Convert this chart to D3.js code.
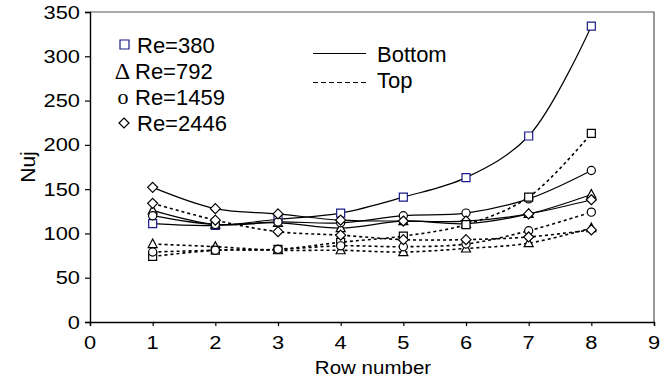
<!DOCTYPE html>
<html>
  <head>
    <meta charset="UTF-8">
    <title>Nuj vs row number</title>
    <script src="https://cdn.jsdelivr.net/npm/d3@7"></script>
    <style>
      body { margin: 0; background: #fff; }
      text { font-family: "Liberation Sans", Arial, sans-serif; fill: #000; }
    </style>
  </head>
  <body>
    <svg id="chart" width="668" height="382"></svg>
    <script>
      // row numbers and Nuj readings, one array per Re / wall
      const rows = [1, 2, 3, 4, 5, 6, 7, 8];
      const re380Bottom = [111, 109, 116, 123, 141, 163, 210, 334];
      const re380Top = [74, 81, 82, 90, 97, 110, 141, 213];
      const re792Bottom = [126, 110, 112, 106, 114, 111, 122, 144];
      const re792Top = [88, 85, 81, 81, 79, 83, 89, 106];
      const re1459Bottom = [120, 110, 113, 112, 120, 123, 139, 171];
      const re1459Top = [79, 81, 82, 86, 85, 88, 103, 124];
      const re2446Bottom = [152, 128, 122, 115, 114, 114, 122, 138];
      const re2446Top = [134, 115, 102, 98, 93, 93, 96, 104];

      const xTicks = [0, 1, 2, 3, 4, 5, 6, 7, 8, 9];
      const yTicks = [0, 50, 100, 150, 200, 250, 300, 350];
      const reLabels = ["Re=380", "Re=792", "Re=1459", "Re=2446"];

      const series = [
        { values: re380Bottom, marker: "square", isTop: false, color: "#1a1a8c" },
        { values: re792Bottom, marker: "triangle", isTop: false, color: "#000" },
        { values: re1459Bottom, marker: "circle", isTop: false, color: "#000" },
        { values: re2446Bottom, marker: "diamond", isTop: false, color: "#000" },
        { values: re380Top, marker: "square", isTop: true, color: "#000" },
        { values: re792Top, marker: "triangle", isTop: true, color: "#000" },
        { values: re1459Top, marker: "circle", isTop: true, color: "#000" },
        { values: re2446Top, marker: "diamond", isTop: true, color: "#000" }
      ];

      const svg = d3.select("#chart");
      const plotL = 90, plotR = 654, plotT = 12, plotB = 322;

      const x = d3.scaleLinear().domain([0, 9]).range([plotL, plotR]);
      const y = d3.scaleLinear().domain([0, 350]).range([plotB, plotT]);

      // frame (top and right edges)
      svg.append("path")
        .attr("d", `M${plotL},${plotT}H${plotR}V${plotB}`)
        .attr("fill", "none")
        .attr("stroke", "#555")
        .attr("stroke-width", 1.2);

      // stretched text helper, the source glyphs are a bit wide
      function label(g, tx, ty, str, size, anchor, sx) {
        return g.append("text")
          .attr("transform", `translate(${tx},${ty}) scale(${sx},1)`)
          .attr("text-anchor", anchor)
          .style("font-size", size + "px")
          .text(str);
      }

      const axisG = svg.append("g");
      const yAxis = d3.axisLeft(y).tickValues(yTicks).tickSize(5).tickFormat("");
      axisG.append("g").attr("transform", `translate(${plotL},0)`).call(yAxis);
      const xAxis = d3.axisBottom(x).tickValues(xTicks).tickSize(4).tickFormat("");
      axisG.append("g").attr("transform", `translate(0,${plotB})`).call(xAxis);
      axisG.selectAll(".domain").attr("stroke", "#000").attr("stroke-width", 1.4);
      axisG.selectAll(".tick line").attr("stroke", "#000").attr("stroke-width", 1.2);

      yTicks.forEach(v => label(svg, 80, y(v) + 6.6, v, 19, "end", 1.15));
      xTicks.forEach(v => label(svg, x(v), 349.3, v, 19, "middle", 1.15));

      label(svg, 373, 374.3, "Row number", 19, "middle", 1.08);
      svg.append("text")
        .attr("transform", `translate(35,${(plotT + plotB) / 2}) rotate(-90)`)
        .attr("text-anchor", "middle")
        .style("font-size", "21px")
        .text("Nuj");

      // lines
      const line = d3.line()
        .x((d, i) => x(rows[i]))
        .y(d => y(d))
        .curve(d3.curveCatmullRom.alpha(0.5));

      svg.append("g").selectAll("path")
        .data(series)
        .join("path")
        .attr("d", d => line(d.values))
        .attr("fill", "none")
        .attr("stroke", "#000")
        .attr("stroke-width", d => d.isTop ? 1.6 : 1.2)
        .attr("stroke-dasharray", d => d.isTop ? "3,3" : null);

      function markerPath(type) {
        if (type === "square") return "M-4,-4H4V4H-4Z";
        if (type === "triangle") return "M0,-5L4.5,3.5H-4.5Z";
        if (type === "diamond") return "M0,-5L5,0L0,5L-5,0Z";
        return d3.symbol(d3.symbolCircle, 52)();
      }

      const markG = svg.append("g");
      series.forEach(s => {
        markG.append("g").selectAll("path")
          .data(s.values)
          .join("path")
          .attr("transform", (d, i) => `translate(${x(rows[i])},${y(d)})`)
          .attr("d", markerPath(s.marker))
          .attr("fill", "#fff")
          .attr("stroke", s.color)
          .attr("stroke-width", 1.2);
      });

      // legend: markers + Re labels
      const leg = svg.append("g");
      const legY = [53, 79, 105, 131];
      leg.append("path")
        .attr("transform", `translate(124.5,${legY[0] - 8.5})`)
        .attr("d", "M-4.5,-4.5H4.5V4.5H-4.5Z")
        .attr("fill", "#fff")
        .attr("stroke", "#1a1a8c")
        .attr("stroke-width", 1.2);
      leg.append("text")
        .attr("x", 122.5).attr("y", legY[1])
        .attr("text-anchor", "middle")
        .style("font-family", "'Liberation Serif', serif")
        .style("font-size", "24px")
        .text("Δ");
      leg.append("text")
        .attr("x", 123).attr("y", legY[2] - 1)
        .attr("text-anchor", "middle")
        .style("font-family", "'Liberation Serif', serif")
        .style("font-size", "22px")
        .text("o");
      leg.append("path")
        .attr("transform", `translate(124,${legY[3] - 8})`)
        .attr("d", "M0,-5L5,0L0,5L-5,0Z")
        .attr("fill", "#fff")
        .attr("stroke", "#000")
        .attr("stroke-width", 1.2);
      reLabels.forEach((t, i) => {
        leg.append("text")
          .attr("x", i === 1 || i === 2 ? 135 : 137)
          .attr("y", legY[i])
          .style("font-size", "22px")
          .text(t);
      });

      // legend: line styles
      leg.append("line")
        .attr("x1", 313).attr("x2", 366).attr("y1", 53.5).attr("y2", 53.5)
        .attr("stroke", "#000").attr("stroke-width", 1.2);
      leg.append("line")
        .attr("x1", 313).attr("x2", 366).attr("y1", 82.5).attr("y2", 82.5)
        .attr("stroke", "#000").attr("stroke-width", 1.2)
        .attr("stroke-dasharray", "5,3");
      leg.append("text").attr("x", 377).attr("y", 61.7)
        .style("font-size", "22px").text("Bottom");
      leg.append("text").attr("x", 377).attr("y", 87.5)
        .style("font-size", "22px").text("Top");
    </script>
  </body>
</html>
